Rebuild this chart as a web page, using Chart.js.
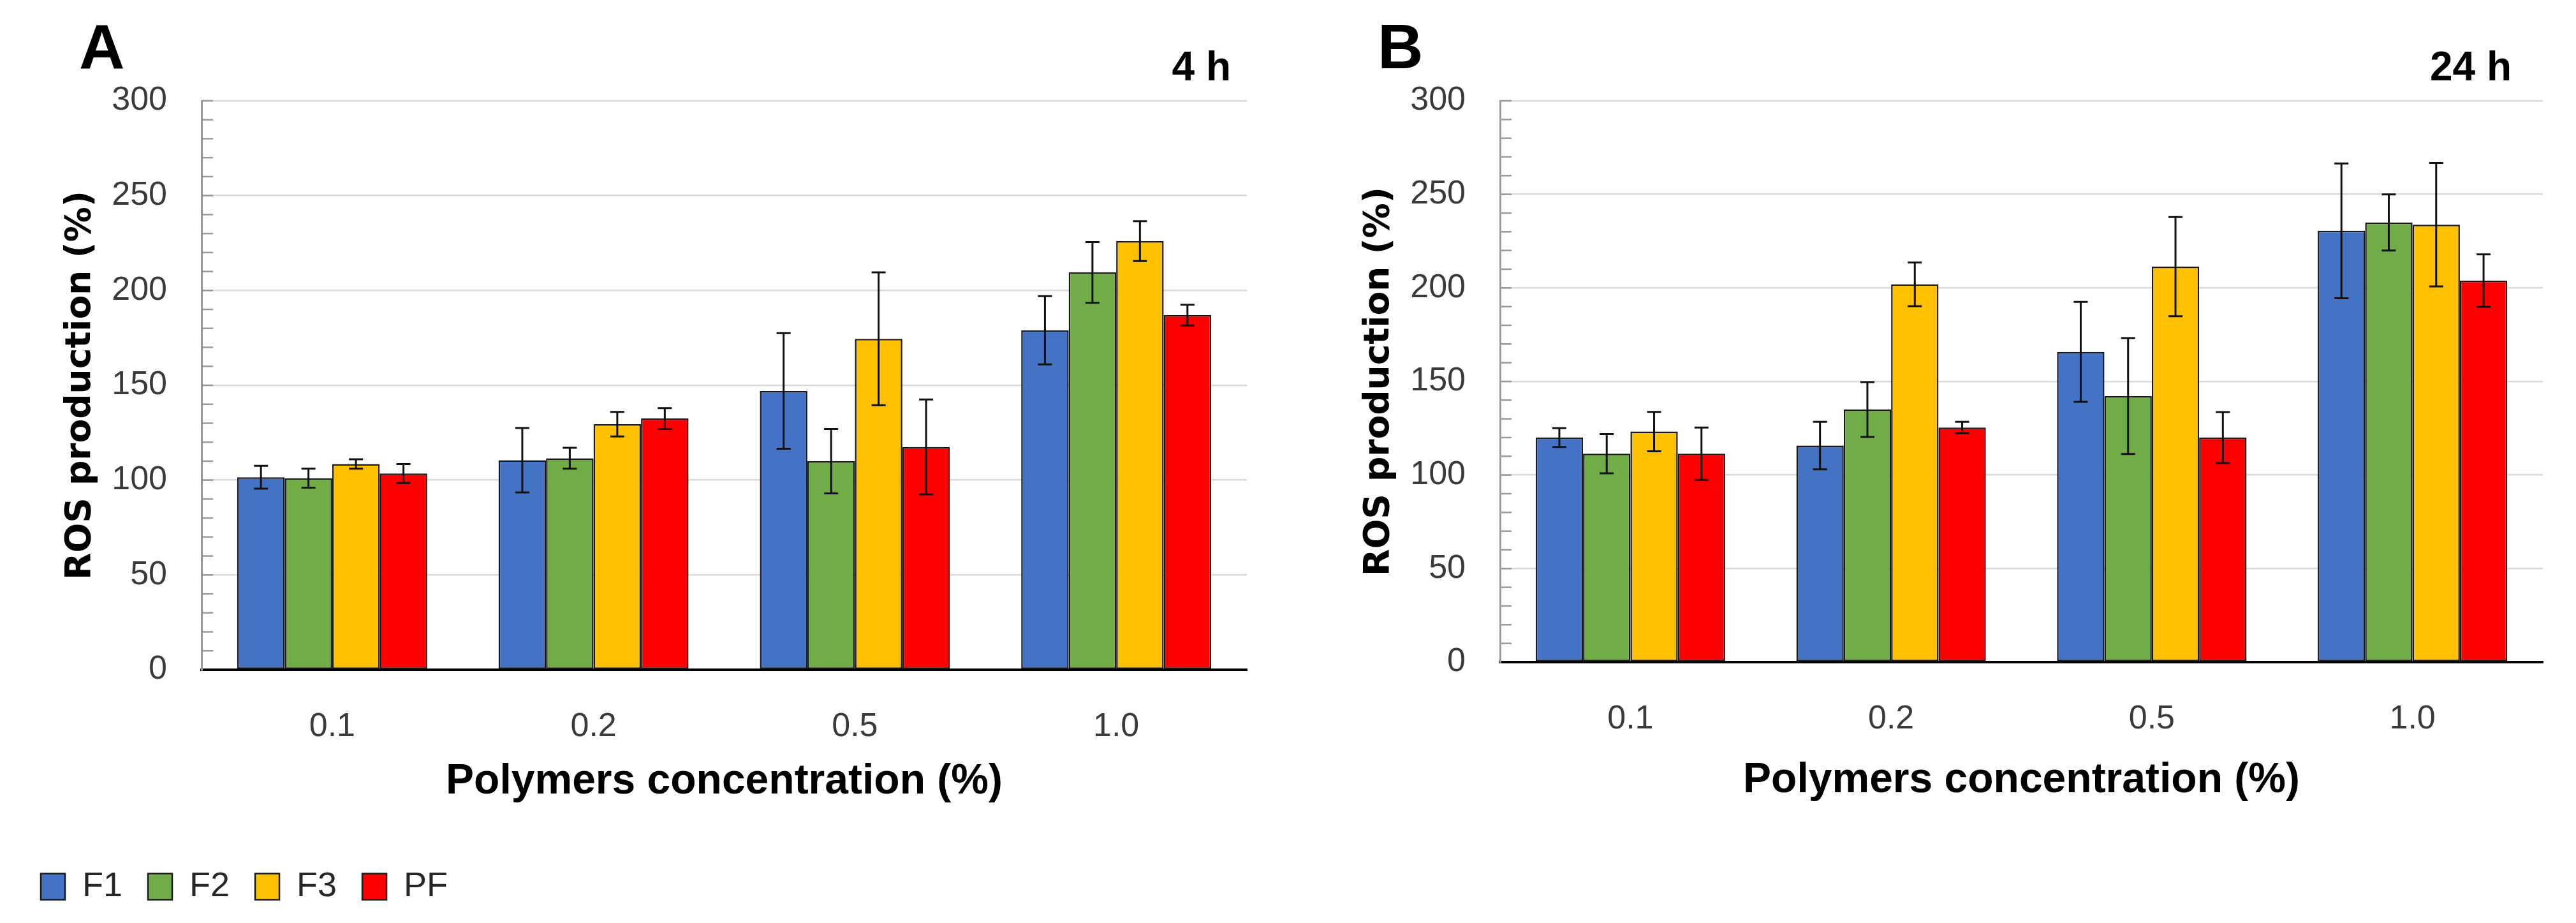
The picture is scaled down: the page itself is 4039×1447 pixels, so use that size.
<!DOCTYPE html>
<html>
<head>
<meta charset="utf-8">
<script src="https://cdn.jsdelivr.net/npm/chart.js@4.4.1/dist/chart.umd.min.js"></script>
<style>
  html, body { margin: 0; padding: 0; background: #fff; }
  #wrap { position: relative; width: 4039px; height: 1447px; }
  canvas { position: absolute; top: 0; }
</style>
</head>
<body>
<div id="wrap">
  <canvas id="chartA" width="2020" height="1447" style="left:0"></canvas>
  <canvas id="chartB" width="2019" height="1447" style="left:2020px"></canvas>
</div>
<script>
// categories and series
const concentrations = ['0.1', '0.2', '0.5', '1.0'];
const seriesNames = ['F1', 'F2', 'F3', 'PF'];
const seriesColors = ['#4472C4', '#70AD47', '#FFC000', '#FF0000'];
const yTicks = [0, 50, 100, 150, 200, 250, 300];

// 4 h (panel A): means and error bars
const f1_4h = [101.5, 110.5, 147, 179];
const f2_4h = [101, 111.5, 110, 209.5];
const f3_4h = [108.5, 129.5, 174.5, 226];
const pf_4h = [103.5, 132.5, 117.5, 187];
const f1_4h_err = [6, 17, 30.5, 18];
const f2_4h_err = [5, 5.5, 17, 16];
const f3_4h_err = [2.5, 6.5, 35, 10.5];
const pf_4h_err = [5, 5.5, 25, 5.5];

// 24 h (panel B): means and error bars
const f1_24h = [120, 115.7, 165.8, 230.5];
const f2_24h = [111.4, 135, 142.2, 235];
const f3_24h = [123.2, 201.9, 211.4, 233.8];
const pf_24h = [111.4, 125.4, 120, 203.9];
const f1_24h_err = [5, 12.7, 26.7, 36];
const f2_24h_err = [10.5, 14.7, 31, 15];
const f3_24h_err = [10.5, 11.7, 26.5, 33];
const pf_24h_err = [14, 3, 13.6, 14];

const tickFont = "'Liberation Sans', sans-serif";

function makeDatasets(values, errors) {
  return values.map((v, i) => ({
    label: seriesNames[i],
    data: v,
    errors: errors[i],
    backgroundColor: seriesColors[i],
    borderColor: '#1a1a1a',
    borderWidth: 2.5,
    borderSkipped: false,
    barPercentage: 1.0,
    categoryPercentage: 0.727
  }));
}

const errorBars = {
  id: 'errorBars',
  afterDatasetsDraw(chart) {
    const ctx = chart.ctx;
    const y = chart.scales.y;
    ctx.save();
    ctx.strokeStyle = '#111';
    ctx.lineWidth = 3;
    chart.data.datasets.forEach((ds, i) => {
      const meta = chart.getDatasetMeta(i);
      meta.data.forEach((bar, j) => {
        const v = ds.data[j], e = ds.errors[j];
        const top = y.getPixelForValue(v + e);
        const bot = y.getPixelForValue(v - e);
        const x = bar.x;
        ctx.beginPath();
        ctx.moveTo(x, top); ctx.lineTo(x, bot);
        ctx.moveTo(x - 11, top); ctx.lineTo(x + 11, top);
        ctx.moveTo(x - 11, bot); ctx.lineTo(x + 11, bot);
        ctx.stroke();
      });
    });
    ctx.restore();
  }
};

const innerTicks = {
  id: 'innerTicks',
  afterDraw(chart) {
    const ctx = chart.ctx;
    const y = chart.scales.y;
    const left = chart.chartArea.left;
    ctx.save();
    ctx.strokeStyle = '#9a9a9a';
    ctx.lineWidth = 2.5;
    y.ticks.forEach(t => {
      if (t.value === 0) return;
      const py = y.getPixelForValue(t.value);
      ctx.beginPath();
      ctx.moveTo(left, py); ctx.lineTo(left + 18, py);
      ctx.stroke();
    });
    ctx.restore();
  }
};

const panelLabels = {
  id: 'panelLabels',
  afterDraw(chart, args, opts) {
    const ctx = chart.ctx;
    ctx.save();
    ctx.fillStyle = '#000';
    ctx.textBaseline = 'alphabetic';
    ctx.font = "bold 99px 'Liberation Sans', sans-serif";
    ctx.textAlign = 'left';
    ctx.fillText(opts.letter, opts.letterX, 107);
    ctx.font = "bold 64px 'Liberation Sans', sans-serif";
    ctx.textAlign = 'right';
    ctx.fillText(opts.time, opts.timeX, 126);
    ctx.restore();
  }
};

function makeChart(id, datasets, cfg) {
  return new Chart(document.getElementById(id), {
    type: 'bar',
    data: { labels: concentrations, datasets: datasets },
    plugins: [errorBars, innerTicks, panelLabels],
    options: {
      responsive: false,
      animation: false,
      devicePixelRatio: 1,
      layout: { padding: cfg.padding },
      scales: {
        x: {
          grid: { display: false },
          border: { display: true, color: '#000', width: 4 },
          ticks: { color: '#3a3a3a', padding: 50, font: { family: tickFont, size: 52 } },
          title: {
            display: true,
            text: 'Polymers concentration (%)',
            color: '#000',
            font: { family: tickFont, size: 66, weight: 'bold' },
            padding: { top: 0, bottom: cfg.xTitlePad }
          },
          afterFit: s => { s.height = cfg.xHeight; }
        },
        y: {
          min: 0,
          max: 300,
          ticks: {
            stepSize: 10,
            autoSkip: false,
            maxTicksLimit: 100,
            color: '#3a3a3a',
            padding: 54,
            font: { family: tickFont, size: 52 },
            callback: v => (yTicks.includes(v) ? v : '')
          },
          grid: {
            drawTicks: false,
            lineWidth: 2.5,
            color: c => (c.tick && c.tick.value % 50 === 0 && c.tick.value !== 0 ? '#d9d9d9' : 'rgba(0,0,0,0)')
          },
          border: { display: true, color: '#9a9a9a', width: 3 },
          title: {
            display: true,
            text: 'ROS production (%)',
            color: '#000',
            font: { family: "'DejaVu Sans', sans-serif", size: 55, weight: 'bold' },
            padding: { top: cfg.yTitlePad, bottom: 0 }
          },
          afterFit: s => { s.width = cfg.yWidth; }
        }
      },
      plugins: {
        tooltip: { enabled: false },
        legend: cfg.legend,
        panelLabels: cfg.labels
      }
    }
  });
}

makeChart('chartA',
  makeDatasets([f1_4h, f2_4h, f3_4h, pf_4h], [f1_4h_err, f2_4h_err, f3_4h_err, pf_4h_err]),
  {
    padding: { left: 24, right: 65, top: 158, bottom: 20 },
    yWidth: 292,
    xHeight: 273,
    xTitlePad: 58,
    yTitlePad: 70,
    labels: { letter: 'A', letterX: 124, time: '4 h', timeX: 1930 },
    legend: {
      display: true,
      position: 'bottom',
      align: 'start',
      labels: {
        boxWidth: 38,
        boxHeight: 41,
        padding: 40,
        color: '#262626',
        font: { family: tickFont, size: 54 }
      }
    }
  });

makeChart('chartB',
  makeDatasets([f1_24h, f2_24h, f3_24h, pf_24h], [f1_24h_err, f2_24h_err, f3_24h_err, pf_24h_err]),
  {
    padding: { left: 0, right: 52, top: 158, bottom: 0 },
    yWidth: 332,
    xHeight: 409,
    xTitlePad: 184,
    yTitlePad: 110,
    labels: { letter: 'B', letterX: 140, time: '24 h', timeX: 1918 },
    legend: { display: false }
  });
</script>
</body>
</html>
